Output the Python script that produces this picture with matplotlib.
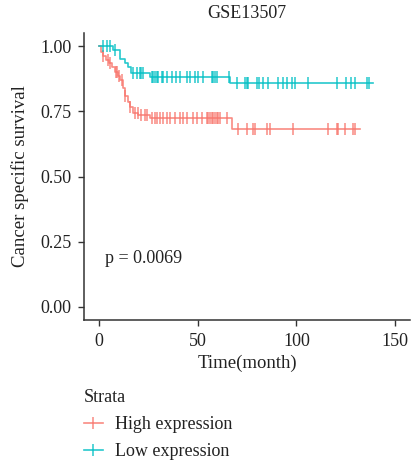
import numpy as np
import matplotlib
matplotlib.use("Agg")
import matplotlib.pyplot as plt
from matplotlib.lines import Line2D

plt.rcParams['font.family'] = ['Liberation Serif', 'DejaVu Serif']

# ---- data ----
title = "GSE13507"
strata = ["High expression", "Low expression"]
colors = ["#F8766D", "#00BFC4"]

high_times = [0, 1, 2, 3.4, 5, 6.5, 8, 9.5, 10.6, 12.3, 13, 14.8, 15.7, 17.3, 20, 26, 67.2]
high_surv = [1.0, 0.978, 0.962, 0.946, 0.935, 0.92, 0.90, 0.885, 0.87, 0.84, 0.81, 0.787,
             0.766, 0.745, 0.735, 0.723, 0.681]
high_end = 132
high_censor = [2.2, 4.5, 5.5, 8.5, 9, 10, 11.5, 13.5, 16, 18.2, 19.9, 21.6, 23.3, 24.2,
               26.7, 28.4, 29.2, 30.9, 32.6, 34.3, 36, 38.5, 41.1, 42.7, 44.4, 47.8, 49.5,
               52, 54.6, 55.4, 56.3, 57.1, 57.9, 58.8, 59.7, 60.5, 61.3, 64.7,
               70.6, 74.9, 78.2, 79.1, 85, 86.7, 98.2, 116.2, 120.5, 121.3, 124.7, 128.9, 129.7]

low_times = [0, 7, 10.6, 13, 15, 16.5, 26, 66.4]
low_surv = [1.0, 0.985, 0.95, 0.935, 0.92, 0.898, 0.882, 0.857]
low_end = 139
low_censor = [1.9, 3.9, 5.9, 8, 17.4, 19.1, 20.8, 21.6, 22.4,
              26.7, 27.5, 28.4, 29.2, 30.1, 31.8, 32.6, 34.3, 36.8, 39.3, 41.0, 44.4, 46.1,
              48.6, 50.3, 52.9, 57.1, 57.9, 58.8, 59.7, 66.0,
              69.8, 74, 74.9, 75.7, 79.9, 81.3, 83.3, 85.8, 90.9, 93.4, 95.4, 97.7, 99.3,
              106.1, 120.5, 125.2, 127.6, 129.7, 135.7, 137]

pval_text = "p = 0.0069"
xticks = [0, 50, 100, 150]
yticks = [0.00, 0.25, 0.50, 0.75, 1.00]

# ---- figure ----
W, H = 412, 466
fig = plt.figure(figsize=(W / 100, H / 100), dpi=100)
ax = fig.add_axes([84 / W, 1 - 320 / H, (410 - 84) / W, (320 - 33) / H])

groups = [(high_times, high_surv, high_end, high_censor),
          (low_times, low_surv, low_end, low_censor)]
for (t, s, end, cens), col in zip(groups, colors):
    tt = np.array(list(t) + [end])
    ss = np.array(list(s) + [s[-1]])
    ax.step(tt, ss, where='post', color=col, lw=1.2, alpha=0.85)
    c = np.array(cens)
    idx = np.searchsorted(np.array(t), c, side='right') - 1
    cy = np.array(s)[idx]
    ax.plot(c, cy, linestyle='none', marker='|', markersize=8, mew=1.1,
            color=col, alpha=0.85)

ax.set_xlim(-7.5, 157.5)
ax.set_ylim(-0.05, 1.05)
ax.set_xticks(xticks)
ax.set_yticks(yticks)
ax.set_yticklabels([f"{v:.2f}" for v in yticks])
for sp in ['top', 'right']:
    ax.spines[sp].set_visible(False)
for sp in ['left', 'bottom']:
    ax.spines[sp].set_color('#333333')
    ax.spines[sp].set_linewidth(1.1)
ax.tick_params(axis='both', length=4, width=1, color='#333333', labelsize=13,
               labelcolor='#222222', pad=5)
ax.set_xlabel("Time(month)", fontsize=13.5, color='#222222', labelpad=4)
ax.set_ylabel("Cancer specific survival", fontsize=13.5, color='#222222', labelpad=8)
ax.text(3, 0.185, pval_text, fontsize=13, va='center', ha='left', color='#222222')

fig.text(247 / W, 1 - 14 / H, title, ha='center', va='center', fontsize=13,
         color='#222222')

handles = [Line2D([0], [0], color=c, lw=1.2, marker='|', markersize=8, mew=1.1, alpha=0.85)
           for c in colors]
leg = fig.legend(handles, strata, title="Strata", loc='upper left',
                 bbox_to_anchor=(84 / W, 1 - 389 / H), frameon=False,
                 borderpad=0, borderaxespad=0,
                 fontsize=13, title_fontsize=13, alignment='left',
                 handlelength=1.05, handletextpad=0.65, labelspacing=0.55)
for t in leg.get_texts():
    t.set_color('#222222')
leg.get_title().set_color('#222222')

fig.savefig("out.png", dpi=100)
